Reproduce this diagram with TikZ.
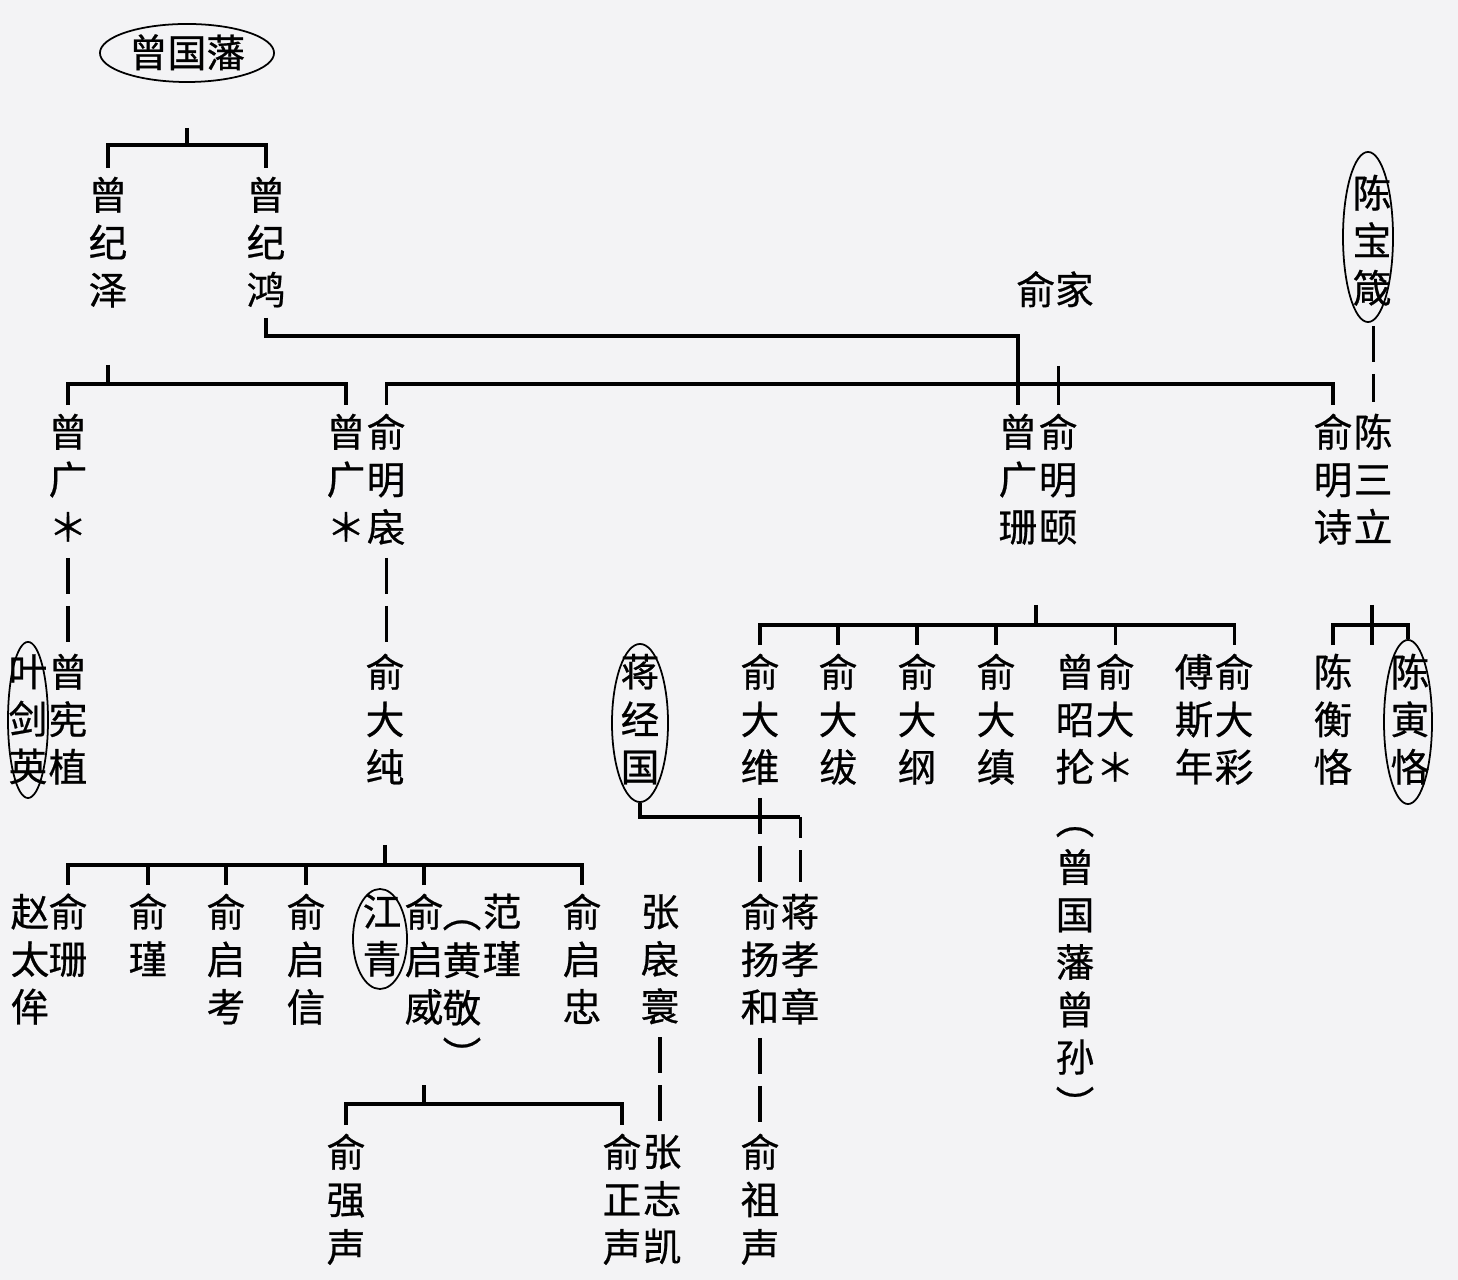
\documentclass[tikz,border=0pt]{standalone}
\usepackage{fontspec}
\setmainfont{Noto Sans CJK SC}[FakeBold=0.6]
\usepackage{tikz}
\usetikzlibrary{shapes.geometric, positioning}
\definecolor{paper}{RGB}{243, 243, 245}
\newcommand\namefont{\fontsize{11}{13.5}\selectfont}
\newcommand\vstrut{\rule[-0.12em]{0pt}{0.88em}}
\newcommand\vopen{\rotatebox[origin=c]{-90}{（}}
\newcommand\vclose{\rotatebox[origin=c]{-90}{）}}

\begin{document}
\begin{tikzpicture}[
    x=0.01cm, y=-0.01cm,
    person/.style={align=center, font=\namefont, inner xsep=0pt, inner ysep=0.08cm, execute at begin node=\vstrut},
    ring/.style={ellipse, draw, line width=0.5pt, inner sep=0pt},
    tie/.style={line width=0.9pt},
    blood/.style={line width=0.9pt, dash pattern=on 0.36cm off 0.12cm, shorten <=0.03cm, shorten >=0.03cm}
]
    \path[fill=paper, use as bounding box] (0,0) rectangle (1458,1280);

    % generation 0 and 1
    \node[person, ring, minimum width=1.74cm, minimum height=0.58cm] (zgf) at (187,53) {曾国藩};
    \node[person] (zjz) at (108,243) {曾\\纪\\泽};
    \node[person] (zjh) at (266,243) {曾\\纪\\鸿};
    \node[person] (yujia) at (1055,290) {俞家};
    \node[person] (cbz) at (1372,241) {陈\\宝\\箴};
    \node[ring, minimum width=0.5cm, minimum height=1.7cm] (cbz-r) at (1368,237) {};

    % generation 2
    \node[person] (zgj1) at (68,480) {曾\\广\\＊};
    \node[person] (zgj2) at (346,480) {曾\\广\\＊};
    \node[person, right=0pt of zgj2] (ymy) {俞\\明\\扆};
    \node[person] (zgs) at (1018,480) {曾\\广\\珊};
    \node[person, right=0pt of zgs] (ymyi) {俞\\明\\颐};
    \node[person] (yms) at (1333,480) {俞\\明\\诗};
    \node[person, right=0pt of yms] (csl) {陈\\三\\立};

    % generation 3
    \node[person] (zxz) at (68,720) {曾\\宪\\植};
    \node[person, left=0pt of zxz] (yjy) {叶\\剑\\英};
    \node[ring, minimum width=0.4cm, minimum height=1.56cm] (yjy-r) at (28,720) {};
    \node[person] (ydc) at (385,720) {俞\\大\\纯};
    \node[person] (jjg) at (640,720) {蒋\\经\\国};
    \node[ring, minimum width=0.56cm, minimum height=1.58cm] (jjg-r) at (640,723) {};
    \node[person] (ydw) at (760,720) {俞\\大\\维};
    \node[person] (ydf) at (838,720) {俞\\大\\绂};
    \node[person] (ydg) at (917,720) {俞\\大\\纲};
    \node[person] (ydzh) at (996,720) {俞\\大\\缜};
    \node[person] (zzl) at (1075,720) {曾\\昭\\抡};
    \node[person, right=0pt of zzl] (ydyin) {俞\\大\\＊};
    \node[person] (fsn) at (1194,720) {傅\\斯\\年};
    \node[person, right=0pt of fsn] (ydcai) {俞\\大\\彩};
    \node[person] (chk) at (1333,720) {陈\\衡\\恪};
    \node[person] (cyk) at (1410,720) {陈\\寅\\恪};
    \node[ring, minimum width=0.48cm, minimum height=1.64cm] (cyk-r) at (1408,722) {};
    \node[person] (note) at (1075,962) {\vopen\\曾\\国\\藩\\曾\\孙\\\vclose};

    % generation 4
    \node[person] (zty) at (30,960) {赵\\太\\侔};
    \node[person] (ys) at (68,936) {俞\\珊};
    \node[person] (yjin) at (148,936) {俞\\瑾};
    \node[person] (yqk) at (226,960) {俞\\启\\考};
    \node[person] (yqx) at (306,960) {俞\\启\\信};
    \node[person] (jq) at (382,936) {江\\青};
    \node[ring, minimum width=0.54cm, minimum height=1.0cm] (jq-r) at (380,939) {};
    \node[person] (yqw) at (424,960) {俞\\启\\威};
    \node[person] (hj) at (462,984) {\vopen\\黄\\敬\\\vclose};
    \node[person] (fj) at (502,936) {范\\瑾};
    \node[person] (yqz) at (582,960) {俞\\启\\忠};
    \node[person] (zyh) at (660,960) {张\\扆\\寰};
    \node[person] (yyh) at (760,960) {俞\\扬\\和};
    \node[person, right=0pt of yyh] (jxz) {蒋\\孝\\章};

    % generation 5
    \node[person] (yqs) at (346,1200) {俞\\强\\声};
    \node[person] (yzs) at (622,1200) {俞\\正\\声};
    \node[person, right=0pt of yzs] (zzk) {张\\志\\凯};
    \node[person] (yzus) at (760,1200) {俞\\祖\\声};

    % junctions
    \coordinate (t0) at (187,128);
    \coordinate (j0) at (187,145);
    \coordinate (t1) at (108,365);
    \coordinate (j1) at (108,384);
    \coordinate (t2) at (1055,366);
    \coordinate (j2) at (1055,384);
    \coordinate (t3) at (1036,605);
    \coordinate (j3) at (1036,625);
    \coordinate (t4) at (1372,605);
    \coordinate (j4) at (1372,625);
    \coordinate (b4) at (1372,645);
    \coordinate (t5) at (385,845);
    \coordinate (j5) at (385,865);
    \coordinate (t6) at (424,1085);
    \coordinate (j6) at (424,1104);
    \coordinate (j7) at (800,817);

    \draw[tie] (t0) -- (j0);
    \draw[tie] (zjz.north) |- (j0) -| (zjh.north);
    \draw[tie] (zjh.south) |- (zgs.north |- 0,336) -- (zgs.north);
    \draw[tie] (t1) -- (j1);
    \draw[tie] (zgj1.north) |- (j1) -| (zgj2.north);
    \draw[tie] (ymyi.north |- t2) -- (ymyi.north);
    \draw[tie] (ymy.north) |- (j2) -| (yms.north);
    \draw[blood] (csl.north |- cbz-r.south) -- (csl.north);

    \draw[blood] (zgj1.south) -- (zgj1.south |- zxz.north);
    \draw[blood] (ymy.south) -- (ymy.south |- ydc.north);
    \draw[tie] (t3) -- (j3);
    \draw[tie] (ydw.north) |- (j3) -| (ydcai.north);
    \draw[tie] (ydf.north) -- (ydf.north |- j3);
    \draw[tie] (ydg.north) -- (ydg.north |- j3);
    \draw[tie] (ydzh.north) -- (ydzh.north |- j3);
    \draw[tie] (ydyin.north) -- (ydyin.north |- j3);
    \draw[tie] (t4) -- (b4);
    \draw[tie] (chk.north) |- (j4) -| (cyk-r.north);

    \draw[tie] (t5) -- (j5);
    \draw[tie] (ys.north) |- (j5) -| (yqz.north);
    \draw[tie] (yjin.north) -- (yjin.north |- j5);
    \draw[tie] (yqk.north) -- (yqk.north |- j5);
    \draw[tie] (yqx.north) -- (yqx.north |- j5);
    \draw[tie] (yqw.north) -- (yqw.north |- j5);
    \draw[tie] (jjg-r.south) |- (jxz.north |- j7);
    \draw[blood, shorten <=0pt, dash phase=0.15cm] (jxz.north |- j7) -- (jxz.north);
    \draw[blood] (ydw.south) -- (ydw.south |- yyh.north);

    \draw[tie] (t6) -- (j6);
    \draw[tie] (yqs.north) |- (j6) -| (yzs.north);
    \draw[blood] (zyh.south) -- (zyh.south |- zzk.north);
    \draw[blood] (yyh.south) -- (yyh.south |- yzus.north);
\end{tikzpicture}
\end{document}
